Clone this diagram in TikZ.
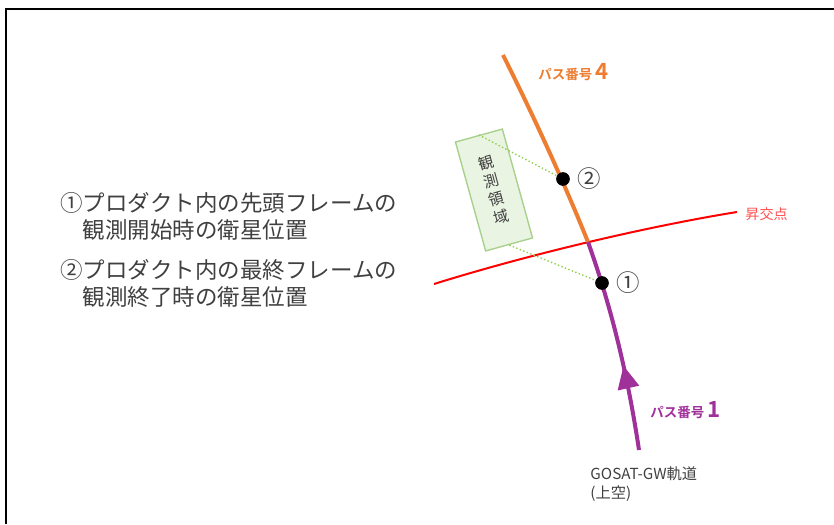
\documentclass[tikz,border=0pt]{standalone}
\usepackage{fontspec}
\setmainfont{Noto Sans CJK JP}[BoldFont={Noto Sans CJK JP Bold}]
\usetikzlibrary{positioning, arrows.meta, decorations.markings}
\definecolor{pathorange}{HTML}{ED7D31}
\definecolor{pathpurple}{HTML}{A0309A}
\definecolor{areagreen}{HTML}{A9D18E}
\definecolor{areafill}{HTML}{EAF4E3}
\definecolor{dotgreen}{HTML}{92D050}
\definecolor{ascred}{HTML}{FF5050}
\definecolor{textgray}{HTML}{404040}

\begin{document}
\begin{tikzpicture}[x=0.03cm, y=0.03cm, thick,
    orbit/.style={line width=0.12cm},
    satdot/.style={circle, fill=black, inner sep=0pt, minimum size=0.4cm},
    posnum/.style={text=textgray, inner sep=0pt, font=\fontsize{20}{22}\selectfont},
    pathlabel/.style={font=\bfseries\fontsize{11.5}{13}\selectfont},
    legend/.style={anchor=west, align=left, text=textgray, font=\fontsize{19.2}{23}\selectfont}]
    \useasboundingbox (0,0) rectangle (834,524);
    %--- FRAME ---
    \draw[line width=0.075cm] (6,0) -- (6,515) -- (834,515);
    %--- ASCENDING NODE ---
    \draw[red, line width=0.06cm] (434,240) .. controls (530,270) and (650,298) .. (737,312);
    \node[right, inner sep=0pt, text=ascred, font=\fontsize{12}{14}\selectfont] (ascnode) at (745,310) {昇交点};
    %--- ORBIT ---
    \coordinate (cross) at (588,282);
    \draw[pathorange, orbit] (cross) .. controls (563,344) and (534,407) .. (503,469);
    \draw[pathpurple, orbit, postaction={decorate},
      decoration={markings, mark=at position 0.4 with {\arrow{Triangle[length=0.69cm, width=0.63cm]}}}]
      (639,74) .. controls (628.5,144) and (613,212) .. (cross);
    \node[pathlabel, anchor=west, inner sep=0pt, text=pathorange] (pass4) at (538,452) {パス番号 {\fontsize{19}{20}\selectfont 4}};
    \node[pathlabel, anchor=west, inner sep=0pt, text=pathpurple] (pass1) at (650,114) {パス番号 {\fontsize{19}{20}\selectfont 1}};
    \node[anchor=north west, align=left, text=textgray, font=\fontsize{13}{16.5}\selectfont, inner sep=0pt] (orbitname) at (590,58) {GOSAT-GW軌道\\(上空)};
    %--- OBSERVATION AREA ---
    \node[draw=areagreen, fill=areafill, line width=1.2pt, rotate=15.5, minimum width=1.46cm,
      minimum height=3.39cm, inner sep=0pt, align=center, text=textgray,
      font=\fontsize{13}{16}\selectfont] (area) at (494,334) {観\\測\\領\\域};
    \node[satdot] (dotB) at (563,345) {};
    \node[satdot] (dotA) at (602,241) {};
    \draw[dotgreen, dotted, line width=1.2pt] (area.north) -- (dotB.center);
    \draw[dotgreen, dotted, line width=1.2pt] (area.south) -- (dotA.center);
    \node[satdot] at (dotB) {};
    \node[satdot] at (dotA) {};
    \node[posnum, right=0.2cm of dotB] (numB) {②};
    \node[posnum, right=0.2cm of dotA] (numA) {①};
    %--- LEGEND ---
    \node[legend] (legA) at (56,307.5) {①プロダクト内の先頭フレームの\\\phantom{①}観測開始時の衛星位置};
    \node[legend] (legB) at (56,240.5) {②プロダクト内の最終フレームの\\\phantom{②}観測終了時の衛星位置};
\end{tikzpicture}
\end{document}
